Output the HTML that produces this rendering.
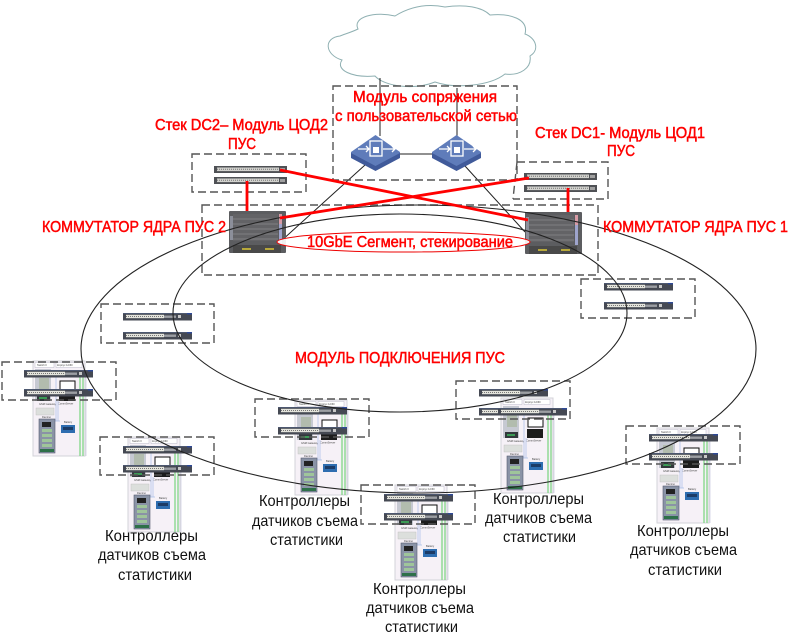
<!DOCTYPE html>
<html><head><meta charset="utf-8">
<style>
html,body{margin:0;padding:0;background:#fff}
svg{display:block}
text{font-family:"Liberation Sans",sans-serif}
.r{fill:#f00;font-size:16px;stroke:#f00;stroke-width:.5}
.k{fill:#111;font-size:16px}
.d{fill:none;stroke:#555;stroke-width:1.4;stroke-dasharray:8 4}
.t{font-size:2.6px;fill:#444}
</style></head><body>
<svg width="800" height="639" viewBox="0 0 800 639" xmlns="http://www.w3.org/2000/svg">
<defs>
<filter id="b" x="-5%" y="-5%" width="110%" height="110%"><feGaussianBlur stdDeviation="0.35"/></filter>
<g id="sw">
<rect width="69" height="7.500" fill="#454952"/>
<rect y="0" width="69" height="1" fill="#4d5870"/>
<rect x="3" y="1.8" width="38" height="3.4" fill="#e4e4dc"/>
<path d="M3 3.500H41" stroke="#777" stroke-width="1" stroke-dasharray="1 1"/>
<rect x="41" y="2.5" width="12" height="2.4" fill="#9c9ea3"/>
<rect x="55" y="2" width="3" height="3" fill="#c8c8c8"/>
<rect x="64" y="0" width="5" height="1.5" fill="#2f4a96"/>
</g>
<g id="sw2">
<rect width="73" height="7" fill="#505155"/>
<rect x="3" y="1.5" width="62" height="3.6" fill="#d2d2ce"/>
<path d="M3 3.300H65" stroke="#777" stroke-width="1" stroke-dasharray="1 1"/>
<rect x="66" y="2" width="5" height="3" fill="#a0a0a0"/>
</g>
<g id="ctrl">
<rect width="52" height="95" fill="#f6f1f7" stroke="#d3d3d8" stroke-width="1"/>
<rect x="2" y="1.5" width="19" height="5" fill="#fff" stroke="#aab" stroke-width=".4"/>
<rect x="23" y="1.5" width="26" height="5" fill="#fff" stroke="#aab" stroke-width=".4"/>
<text class="t" x="4" y="5">Switch II</text><text class="t" x="24" y="5">Корпус 12/60</text>
<rect x="2" y="8" width="16" height="32" fill="#c6c9d2"/>
<rect x="6" y="17" width="10" height="12" fill="#b2bcae"/>
<rect x="4" y="34" width="13" height="6" fill="#33383a"/><rect x="6" y="36" width="8" height="2" fill="#3b9a55"/>
<rect x="27" y="20" width="15" height="9" fill="#fff" stroke="#111" stroke-width="1"/>
<rect x="26" y="31" width="16" height="9" fill="#1d1d1f"/>
<text class="t" x="25" y="43.500">CommServer</text>
<text class="t" x="6" y="44">GSM Gateway</text>
<rect x="3" y="47" width="18" height="7" fill="#dcdfdc" stroke="#bbb" stroke-width=".4"/>
<path d="M23 12V60M25 40V60M22 60H27" stroke="#a8bde8" stroke-width=".7" fill="none"/>
<text class="t" x="9" y="57">Damino</text>
<rect x="6" y="58" width="16" height="34" fill="#8a93a6" stroke="#555c70" stroke-width=".6"/>
<rect x="9" y="61" width="9" height="5" fill="#222"/>
<rect x="9" y="68" width="10" height="3" fill="#9fc59a"/><rect x="9" y="73" width="10" height="3" fill="#9fc59a"/><rect x="9" y="78" width="10" height="3" fill="#9fc59a"/><rect x="9" y="83" width="10" height="3" fill="#9fc59a"/>
<rect x="7" y="88" width="14" height="3" fill="#2f6f48"/>
<text class="t" x="31" y="62">Battery</text>
<rect x="28" y="64" width="14" height="8" fill="#2f6db0"/><rect x="30" y="66" width="10" height="3" fill="#1b3b66"/>
<path d="M47 13V95M50 13V95" stroke="#8ad88f" stroke-width="1.400" fill="none"/>
<path d="M53 10V95" stroke="#d8d8e8" stroke-width="1" fill="none"/>
</g>
<g id="core">
<rect width="57" height="42" rx="1" fill="#5c5d61"/>
<rect x="4" y="3" width="45" height="27" fill="#646466"/>
<path d="M4 8H49M4 13H49M4 18H49M4 23H49M4 28H49" stroke="#88888b" stroke-width=".8"/>
<rect x="1" y="5" width="3" height="24" fill="#8c8f9a"/>
<rect x="50" y="3" width="3" height="10" fill="#d89ba5"/><rect x="50" y="13" width="3" height="20" fill="#9ea4cc"/>
<rect x="4" y="34" width="48" height="8" fill="#48484a"/>
<rect x="13" y="37" width="9" height="2" fill="#b7a83a"/><rect x="36" y="37" width="9" height="2" fill="#b7a83a"/>
</g>
<g id="rt">
<path d="M0 14 24.500-3 49 14V19L24.500 32 0 19Z" fill="#5f7cba"/>
<path d="M0 15 24.500 28 49 15V20L24.500 33 0 20Z" fill="#3f5a9a"/>
<rect x="19" y="3" width="12" height="15" fill="none" stroke="#fff" stroke-width="1.300"/>
<rect x="22" y="9" width="6" height="6" fill="#fff"/>
<path d="M7 11H18M15 8l3 3-3 3M32 11H44M41 8l3 3-3 3" fill="none" stroke="#fff" stroke-width="1.300"/>
</g>
</defs>

<!-- cloud -->
<path d="M358 29C352 17 375 11 395 16 408 8 425 3 445 7 465 4 482 7 490 15 510 13 529 19 525 34 536 38 540 50 530 56 532 68 520 76 505 74 490 86 455 89 435 82 415 90 385 87 375 76 352 78 335 70 342 60 325 55 323 38 340 36 345 34 352 32 358 29Z" fill="#fff" stroke="#8fb0b2" stroke-width="1"/>

<g filter="url(#b)">
<!-- controller panels -->
<use href="#ctrl" x="33" y="361"/>
<use href="#ctrl" x="128" y="437"/>
<use href="#ctrl" x="295" y="400"/>
<use href="#ctrl" x="395" y="485"/>
<use href="#ctrl" x="501" y="398"/>
<use href="#ctrl" x="657" y="428"/>
</g>

<!-- black links -->
<path d="M380 78V136M457 88V142M400 154H432M365 165 280 242M465 166 525 232" stroke="#222" stroke-width="1" fill="none"/>

<!-- dashed boxes -->
<rect class="d" x="333" y="86" width="184" height="94"/>
<rect class="d" x="192" y="154" width="114" height="38"/>
<path class="d" d="M517 162H608V199H513"/>
<path class="d" d="M517 162L513 199"/>
<rect class="d" x="202" y="205" width="396" height="70"/>
<rect class="d" x="101" y="304" width="113" height="39"/>
<rect class="d" x="581" y="279" width="114" height="39"/>
<rect class="d" x="2" y="362" width="114" height="38"/>
<rect class="d" x="100" y="437" width="114" height="38"/>
<rect class="d" x="255" y="399" width="114" height="38"/>
<rect class="d" x="361" y="485" width="114" height="39"/>
<rect class="d" x="456" y="381" width="114" height="38"/>
<rect class="d" x="626" y="426" width="114" height="38"/>

<g filter="url(#b)">
<!-- switches -->
<use href="#sw2" x="214" y="166"/><use href="#sw2" x="214" y="177"/>
<use href="#sw2" x="524" y="173"/><use href="#sw2" x="524" y="185"/>
<use href="#sw" x="123" y="313"/><use href="#sw" x="123" y="332"/>
<use href="#sw" x="604" y="283"/><use href="#sw" x="604" y="302"/>
<use href="#sw" x="24" y="370"/><use href="#sw" x="24" y="389"/>
<use href="#sw" x="123" y="446"/><use href="#sw" x="123" y="465"/>
<use href="#sw" x="278" y="407"/><use href="#sw" x="278" y="427"/>
<use href="#sw" x="384" y="494"/><use href="#sw" x="384" y="513"/>
<use href="#sw" x="479" y="389"/><use href="#sw" x="479" y="408"/><use href="#sw" x="498" y="408"/>
<use href="#sw" x="649" y="434"/><use href="#sw" x="649" y="453"/>

<!-- core and routers -->
<use href="#core" x="229" y="211"/>
<use href="#core" x="525" y="212"/>
<use href="#rt" x="351" y="138"/>
<use href="#rt" x="432" y="138"/>
</g>

<!-- ellipses -->
<ellipse cx="418.500" cy="349" rx="337.500" ry="144" fill="none" stroke="#222" stroke-width="1.100"/>
<ellipse cx="400" cy="313" rx="227" ry="99" fill="none" stroke="#222" stroke-width="1.100"/>

<!-- red links -->
<path d="M280 170 528 220M529 178 280 218M247 181V211M568 188V212" stroke="#f00" stroke-width="2.800" fill="none"/>
<ellipse cx="403.500" cy="242" rx="126.500" ry="10" fill="#fff" fill-opacity=".9" stroke="#e00" stroke-width="1"/>

<!-- red labels -->
<text class="r" x="353" y="102" textLength="144" lengthAdjust="spacingAndGlyphs">Модуль сопряжения</text>
<text class="r" x="335" y="121" textLength="182" lengthAdjust="spacingAndGlyphs">с пользовательской сетью</text>
<text class="r" x="155" y="130" textLength="173" lengthAdjust="spacingAndGlyphs">Стек DC2– Модуль ЦОД2</text>
<text class="r" x="228" y="149" textLength="28" lengthAdjust="spacingAndGlyphs">ПУС</text>
<text class="r" x="535" y="138" textLength="170" lengthAdjust="spacingAndGlyphs">Стек DC1- Модуль ЦОД1</text>
<text class="r" x="607" y="156" textLength="28" lengthAdjust="spacingAndGlyphs">ПУС</text>
<text class="r" x="42" y="232" textLength="184" lengthAdjust="spacingAndGlyphs">КОММУТАТОР ЯДРА ПУС 2</text>
<text class="r" x="603" y="232" textLength="185" lengthAdjust="spacingAndGlyphs">КОММУТАТОР ЯДРА ПУС 1</text>
<text class="r" x="307" y="247" textLength="206" lengthAdjust="spacingAndGlyphs">10GbE Сегмент, стекирование</text>
<text class="r" x="295" y="363" textLength="210" lengthAdjust="spacingAndGlyphs">МОДУЛЬ ПОДКЛЮЧЕНИЯ ПУС</text>

<!-- black labels -->
<text class="k" x="105" y="541" textLength="93" lengthAdjust="spacingAndGlyphs">Контроллеры</text>
<text class="k" x="98" y="560" textLength="108" lengthAdjust="spacingAndGlyphs">датчиков съема</text>
<text class="k" x="118" y="580" textLength="74" lengthAdjust="spacingAndGlyphs">статистики</text>
<text class="k" x="259" y="506" textLength="91" lengthAdjust="spacingAndGlyphs">Контроллеры</text>
<text class="k" x="252" y="526" textLength="106" lengthAdjust="spacingAndGlyphs">датчиков съема</text>
<text class="k" x="270" y="545" textLength="73" lengthAdjust="spacingAndGlyphs">статистики</text>
<text class="k" x="373" y="594" textLength="93" lengthAdjust="spacingAndGlyphs">Контроллеры</text>
<text class="k" x="366" y="613" textLength="108" lengthAdjust="spacingAndGlyphs">датчиков съема</text>
<text class="k" x="385" y="632" textLength="73" lengthAdjust="spacingAndGlyphs">статистики</text>
<text class="k" x="493" y="504" textLength="91" lengthAdjust="spacingAndGlyphs">Контроллеры</text>
<text class="k" x="485" y="523" textLength="107" lengthAdjust="spacingAndGlyphs">датчиков съема</text>
<text class="k" x="503" y="542" textLength="73" lengthAdjust="spacingAndGlyphs">статистики</text>
<text class="k" x="637" y="536" textLength="92" lengthAdjust="spacingAndGlyphs">Контроллеры</text>
<text class="k" x="630" y="555" textLength="107" lengthAdjust="spacingAndGlyphs">датчиков съема</text>
<text class="k" x="648" y="575" textLength="74" lengthAdjust="spacingAndGlyphs">статистики</text>
</svg>
</body></html>
